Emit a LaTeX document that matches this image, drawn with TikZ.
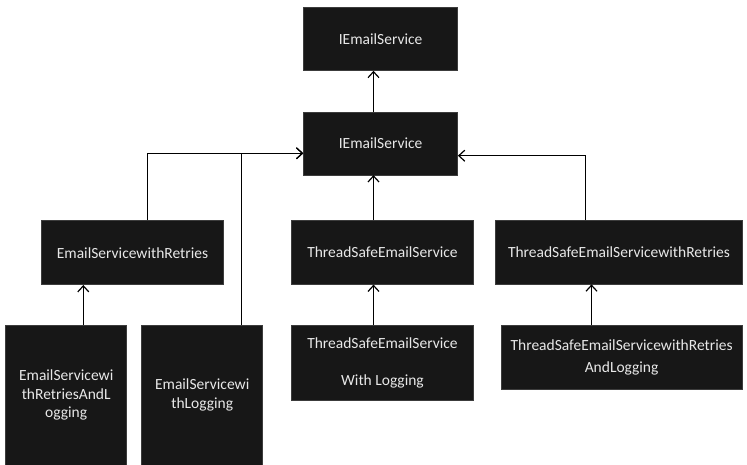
\documentclass[tikz,border=0pt]{standalone}
\usepackage{fontspec}
\setmainfont{Carlito}
\usetikzlibrary{arrows.meta}
\definecolor{boxfill}{HTML}{171717}
\definecolor{boxedge}{HTML}{3C3C3C}
\definecolor{boxtext}{HTML}{E8E8E8}
\begin{document}
\begin{tikzpicture}[x=1pt,y=-1pt,
  classbox/.style={rectangle, fill=boxfill, draw=boxedge, line width=0.6pt,
    inner sep=0pt, text=boxtext, align=center,
    font=\fontsize{15.5}{18.5}\selectfont},
  inherit/.style={draw=black, line width=1.2pt,
    -{Straight Barb[length=6pt,width=11pt,line width=1.2pt]}}]
\useasboundingbox (0,0) rectangle (747,464);
\fill[white] (0,0) rectangle (747,464);

% interface and its implementations
\node[classbox, minimum width=154pt, minimum height=63pt] (b1) at (380.6,39) {IEmailService};
\node[classbox, minimum width=154pt, minimum height=63pt] (b2) at (380.6,143.3) {IEmailService};
\node[classbox, minimum width=181.6pt, minimum height=64pt] (b3) at (132.5,252.7) {EmailServicewithRetries};
\node[classbox, minimum width=181.6pt, minimum height=63.6pt] (b4) at (382.5,252.5) {ThreadSafeEmailService};
\node[classbox, minimum width=246.6pt, minimum height=63.3pt] (b5) at (619,252.4) {ThreadSafeEmailServicewithRetries};
\node[classbox, minimum width=121pt, minimum height=140pt] (b6) at (66.2,395) {EmailServicewi\\thRetriesAndL\\ogging};
\node[classbox, minimum width=121pt, minimum height=140pt] (b7) at (202.2,395) {EmailServicewi\\thLogging};
\node[classbox, minimum width=181.6pt, minimum height=75.7pt] (b8) at (382.5,362.8) {ThreadSafeEmailService\\[18.5pt]With Logging};
\node[classbox, minimum width=241.3pt, minimum height=63.3pt] (b9) at (621.6,357.3) {ThreadSafeEmailServicewithRetries\\[3.5pt]AndLogging};

% x positions of the vertical connector lines
\coordinate (xmid) at (373.5,0);
\coordinate (xret) at (147.7,0);
\coordinate (xlog) at (241.5,0);
\coordinate (xtsr) at (585.7,0);
\coordinate (xrl) at (83.3,0);
\coordinate (xtsrl) at (591.5,0);
\coordinate (yleft) at (0,153.3);
\coordinate (yright) at (0,155.7);

% connectors
\draw[inherit] (b2.north -| xmid) -- (b1.south -| xmid);
\draw[inherit] (b3.north -| xret) |- (b2.west |- yleft);
\draw[inherit] (b7.north -| xlog) |- (b2.west |- yleft);
\draw[inherit] (b4.north -| xmid) -- (b2.south -| xmid);
\draw[inherit] (b5.north -| xtsr) |- (b2.east |- yright);
\draw[inherit] (b6.north -| xrl) -- (b3.south -| xrl);
\draw[inherit] (b8.north -| xmid) -- (b4.south -| xmid);
\draw[inherit] (b9.north -| xtsrl) -- (b5.south -| xtsrl);
\end{tikzpicture}
\end{document}
